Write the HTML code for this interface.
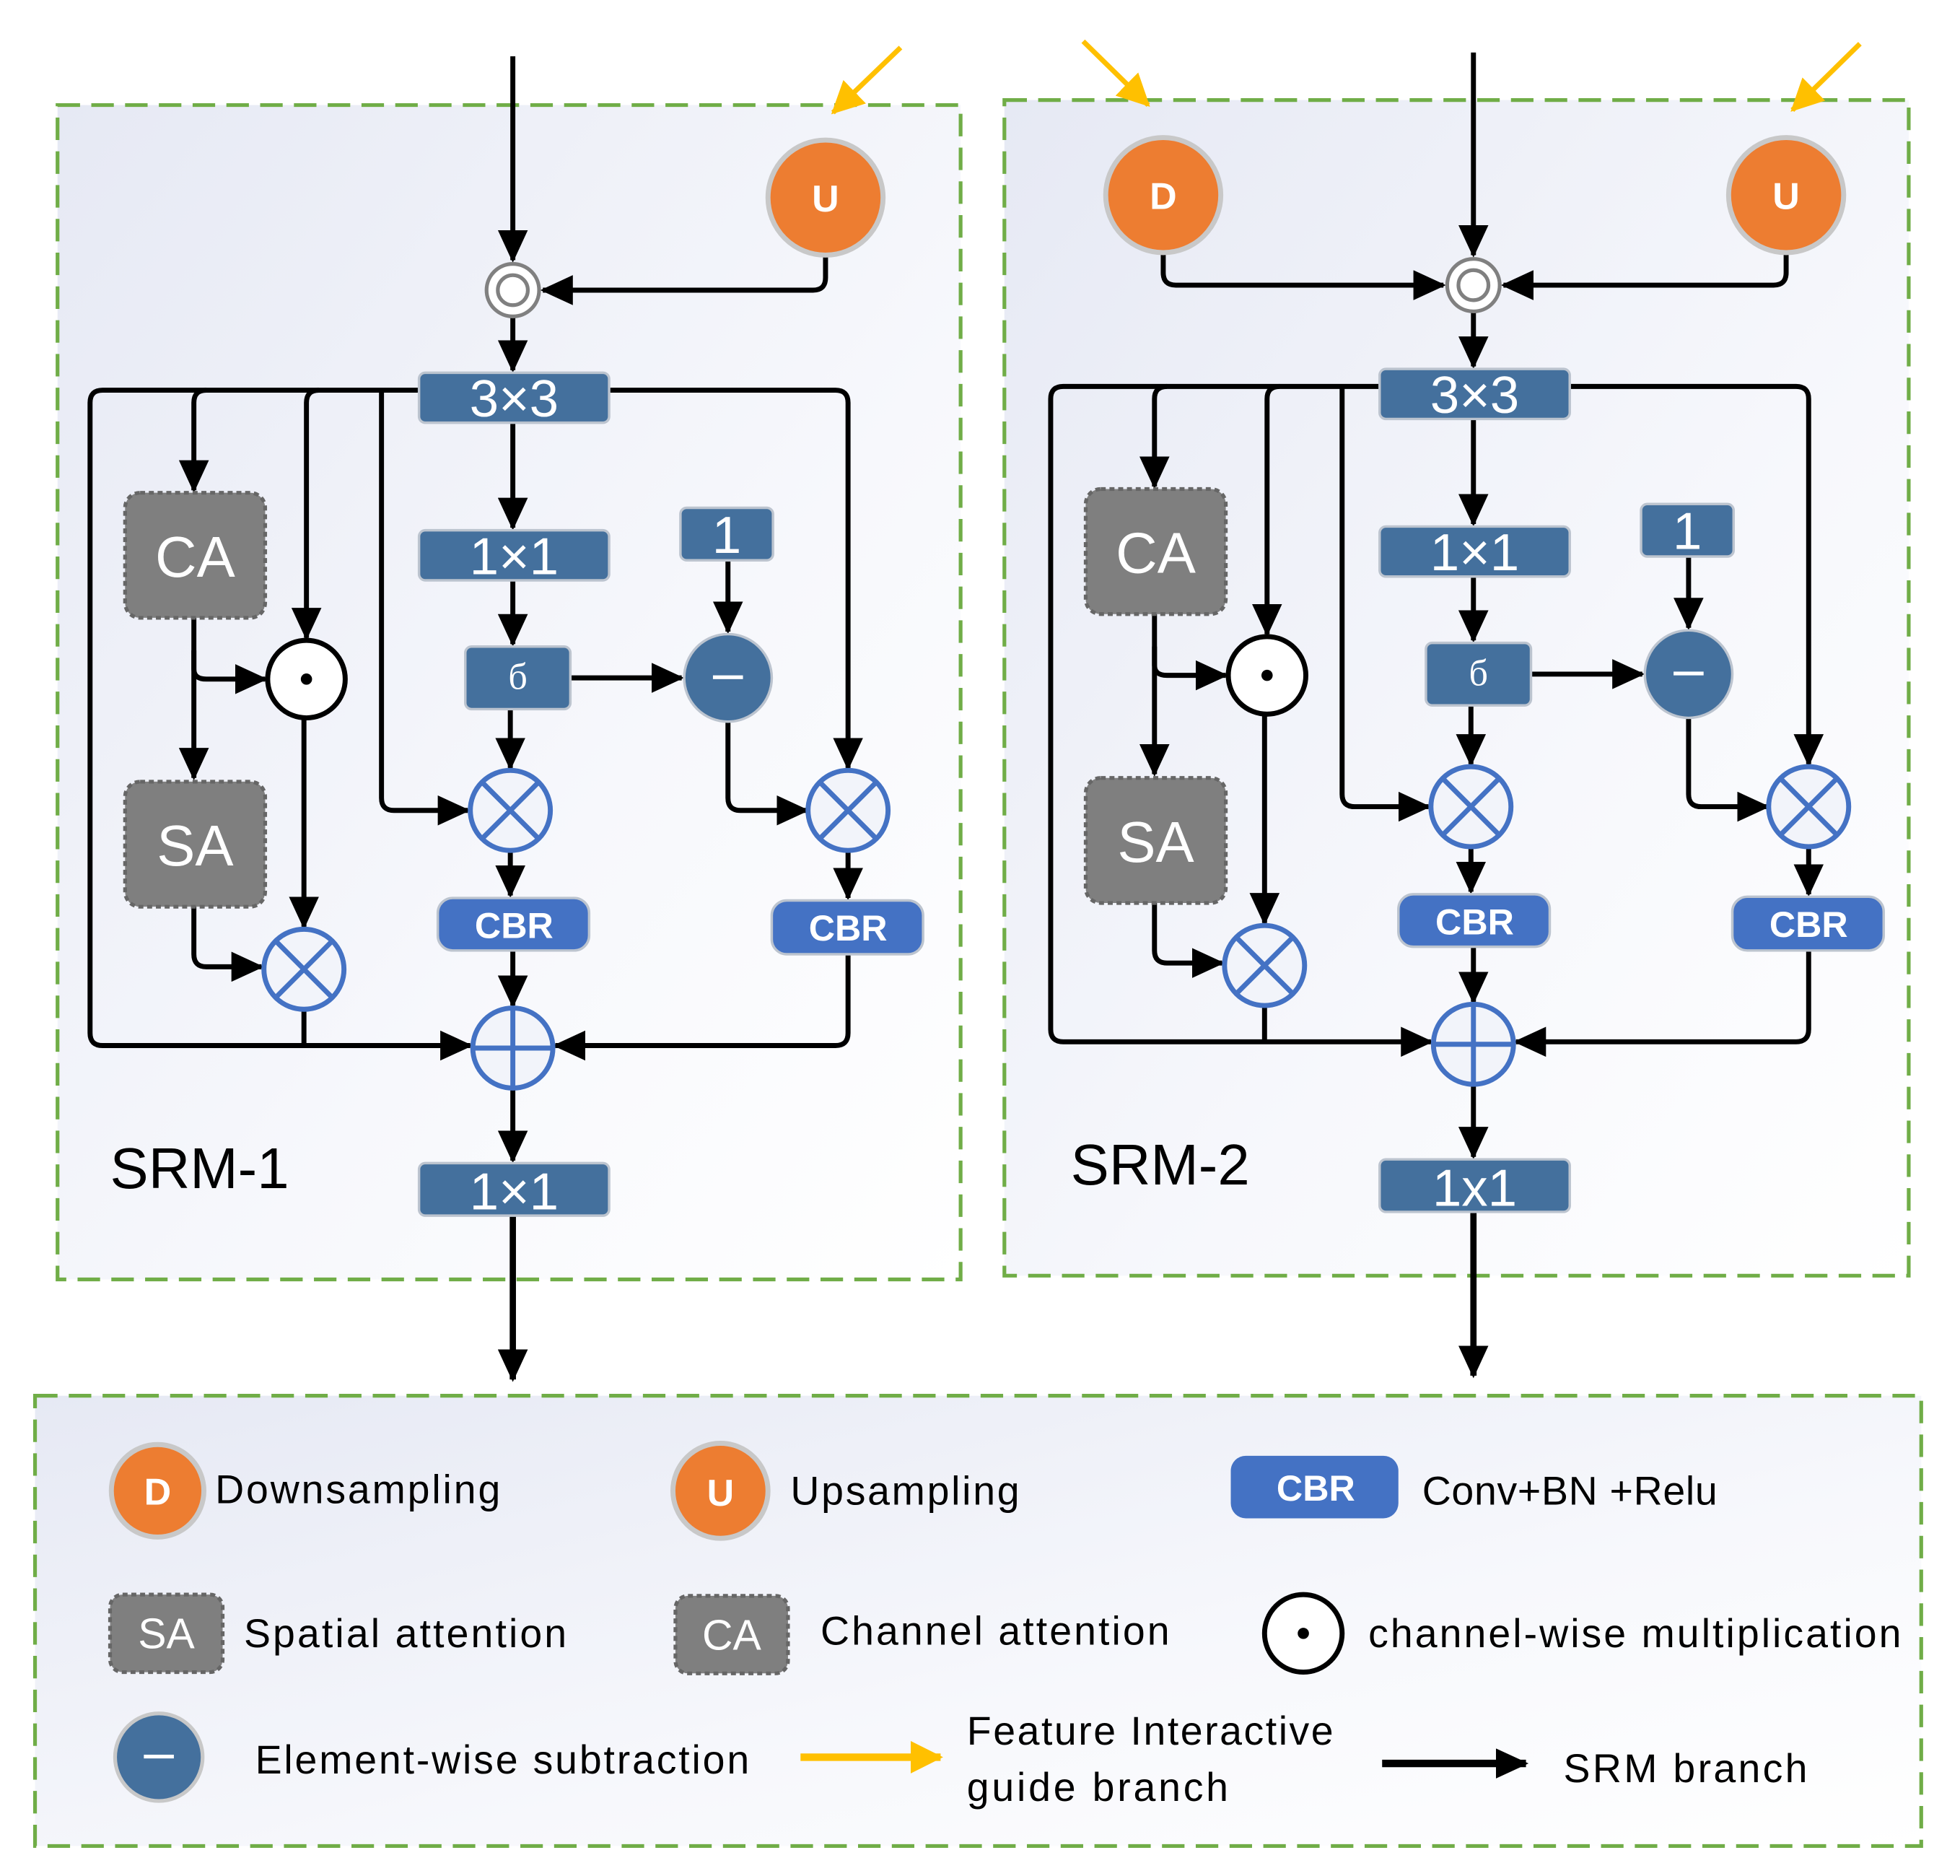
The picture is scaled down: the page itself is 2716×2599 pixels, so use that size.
<!DOCTYPE html>
<html><head><meta charset="utf-8"><style>html,body{margin:0;padding:0;background:#fff}svg{display:block}</style></head>
<body>
<svg width="2716" height="2599" viewBox="0 0 1567 1500" preserveAspectRatio="none" xmlns="http://www.w3.org/2000/svg" font-family="'Liberation Sans', sans-serif">
<defs>
<linearGradient id="bg" x1="0" y1="0" x2="1" y2="1"><stop offset="0" stop-color="#e6e9f4"/><stop offset="0.6" stop-color="#f7f8fc"/><stop offset="1" stop-color="#ffffff"/></linearGradient>
<marker id="a" markerUnits="userSpaceOnUse" markerWidth="26" markerHeight="24" refX="24" refY="12" orient="auto"><path d="M0,0 L26,12 L0,24 z" fill="#000"/></marker>
<marker id="y" markerUnits="userSpaceOnUse" markerWidth="26" markerHeight="26" refX="24" refY="13" orient="auto"><path d="M0,0 L26,13 L0,26 z" fill="#ffc000"/></marker>
<g id="srm">
<g fill="none" stroke="#000" stroke-width="4" stroke-linejoin="round">
<path d="M410,252 V296" marker-end="url(#a)"/>
<path d="M335,312 H82 Q72,312 72,322 V826 Q72,836 82,836 H376" marker-end="url(#a)"/>
<path d="M165,312 Q155,312 155,322 V392" marker-end="url(#a)"/>
<path d="M255,312 Q245,312 245,322 V510" marker-end="url(#a)"/>
<path d="M305,312 V638 Q305,648 315,648 H374" marker-end="url(#a)"/>
<path d="M487,312 H668 Q678,312 678,322 V614" marker-end="url(#a)"/>
<path d="M155,494 V622" marker-end="url(#a)"/>
<path d="M155,520 V535 Q155,543 165,543 H212" marker-end="url(#a)"/>
<path d="M155,725 V763 Q155,773 165,773 H209" marker-end="url(#a)"/>
<path d="M243,574 V741" marker-end="url(#a)"/>
<path d="M243,807 V836"/>
<path d="M410,338 V422" marker-end="url(#a)"/>
<path d="M410,464 V515" marker-end="url(#a)"/>
<path d="M456,542 H545" marker-end="url(#a)"/>
<path d="M582,448 V505" marker-end="url(#a)"/>
<path d="M582,577 V638 Q582,648 592,648 H645" marker-end="url(#a)"/>
<path d="M408,567 V614" marker-end="url(#a)"/>
<path d="M408,680 V716" marker-end="url(#a)"/>
<path d="M678,680 V718" marker-end="url(#a)"/>
<path d="M410,760 V804" marker-end="url(#a)"/>
<path d="M678,763 V826 Q678,836 668,836 H444" marker-end="url(#a)"/>
<path d="M410,870 V928" marker-end="url(#a)"/>
<path d="M410,972 V1103" stroke-width="5" marker-end="url(#a)"/>
</g>
<rect x="335" y="298" width="152" height="40" rx="5" fill="#44709d" stroke="#bcc4cf" stroke-width="2"/>
<text x="411" y="333" font-size="42" fill="#fff" text-anchor="middle">3×3</text>
<rect x="335" y="424" width="152" height="40" rx="5" fill="#44709d" stroke="#bcc4cf" stroke-width="2"/>
<text x="411" y="459" font-size="42" fill="#fff" text-anchor="middle">1×1</text>
<rect x="372" y="517" width="84" height="50" rx="5" fill="#44709d" stroke="#bcc4cf" stroke-width="2"/>
<text x="414" y="551" font-size="30" fill="#fff" text-anchor="middle" font-family="'Liberation Serif', serif">б</text>
<rect x="544" y="406" width="74" height="42" rx="5" fill="#44709d" stroke="#bcc4cf" stroke-width="2"/>
<text x="581" y="442" font-size="42" fill="#fff" text-anchor="middle">1</text>
<circle cx="582" cy="542" r="35" fill="#44709d" stroke="#bcc4cf" stroke-width="2"/>
<rect x="570" y="540" width="24" height="3" fill="#fff"/>
<rect x="100" y="394" width="112" height="100" rx="12" fill="#7f7f7f" stroke="#666" stroke-width="3" stroke-dasharray="4,3"/>
<text x="156" y="461" font-size="46" fill="#fff" text-anchor="middle">CA</text>
<rect x="100" y="625" width="112" height="100" rx="12" fill="#7f7f7f" stroke="#666" stroke-width="3" stroke-dasharray="4,3"/>
<text x="156" y="692" font-size="46" fill="#fff" text-anchor="middle">SA</text>
<circle cx="245" cy="543" r="31" fill="#fff" stroke="#000" stroke-width="4"/>
<circle cx="245" cy="543" r="4.5" fill="#000"/>
<g fill="#f2f4fa" stroke="#4472c4" stroke-width="4">
<circle cx="408" cy="648" r="32"/><path d="M385,625 L431,671 M431,625 L385,671"/>
<circle cx="678" cy="648" r="32"/><path d="M655,625 L701,671 M701,625 L655,671"/>
<circle cx="243" cy="775" r="32"/><path d="M220,752 L266,798 M266,752 L220,798"/>
<circle cx="410" cy="838" r="32"/><path d="M378,838 H442 M410,806 V870"/>
</g>
<rect x="350" y="718" width="121" height="42" rx="12" fill="#4472c4" stroke="#bcc4cf" stroke-width="2"/>
<text x="411" y="750" font-size="29" font-weight="bold" fill="#fff" text-anchor="middle">CBR</text>
<rect x="617" y="720" width="121" height="43" rx="12" fill="#4472c4" stroke="#bcc4cf" stroke-width="2"/>
<text x="678" y="752" font-size="29" font-weight="bold" fill="#fff" text-anchor="middle">CBR</text>
<rect x="335" y="930" width="152" height="42" rx="5" fill="#44709d" stroke="#bcc4cf" stroke-width="2"/>
</g>
</defs>

<rect x="46" y="84" width="722" height="939" fill="url(#bg)" stroke="#70ad47" stroke-width="3" stroke-dasharray="18,9"/>
<rect x="803" y="80" width="723" height="940" fill="url(#bg)" stroke="#70ad47" stroke-width="3" stroke-dasharray="18,9"/>
<rect x="28" y="1116" width="1508" height="360" fill="url(#bg)" stroke="#70ad47" stroke-width="3" stroke-dasharray="18,9"/>

<use href="#srm"/>
<text x="411" y="967" font-size="42" fill="#fff" text-anchor="middle">1×1</text>
<text x="88" y="950" font-size="46" fill="#000">SRM-1</text>
<use href="#srm" transform="translate(768,-3)"/>
<text x="1179" y="964" font-size="42" fill="#fff" text-anchor="middle">1x1</text>
<text x="856" y="947" font-size="46" fill="#000">SRM-2</text>

<g fill="none" stroke="#000" stroke-width="4" stroke-linejoin="round">
<path d="M410,45 V208" marker-end="url(#a)"/>
<path d="M660,205 V222 Q660,232 650,232 H434" marker-end="url(#a)"/>
<path d="M1178,42 V204" marker-end="url(#a)"/>
<path d="M1428,202 V218 Q1428,228 1418,228 H1202" marker-end="url(#a)"/>
<path d="M930,202 V218 Q930,228 940,228 H1154" marker-end="url(#a)"/>
</g>
<circle cx="410" cy="232" r="21" fill="#fff" stroke="#808080" stroke-width="3"/><circle cx="410" cy="232" r="12" fill="#fff" stroke="#808080" stroke-width="3"/>
<circle cx="1178" cy="228" r="21" fill="#fff" stroke="#808080" stroke-width="3"/><circle cx="1178" cy="228" r="12" fill="#fff" stroke="#808080" stroke-width="3"/>
<g stroke="#ffc000" stroke-width="4" fill="none">
<path d="M720,38 L666,90" marker-end="url(#y)"/>
<path d="M866,33 L918,84" marker-end="url(#y)"/>
<path d="M1487,35 L1433,88" marker-end="url(#y)"/>
<path d="M640,1405 H752" stroke-width="6" marker-end="url(#y)"/>
</g>
<g stroke="#c8c8c8" stroke-width="4" fill="#ed7d31">
<circle cx="660" cy="158" r="46"/><circle cx="930" cy="156" r="46"/><circle cx="1428" cy="156" r="46"/>
<circle cx="126" cy="1192" r="37"/><circle cx="576" cy="1192" r="38"/>
</g>
<g font-size="30" font-weight="bold" fill="#fff" text-anchor="middle">
<text x="660" y="169">U</text><text x="930" y="167">D</text><text x="1428" y="167">U</text>
<text x="126" y="1203">D</text><text x="576" y="1204">U</text>
</g>

<g font-size="32" fill="#000">
<text x="172" y="1202" textLength="228">Downsampling</text>
<text x="632" y="1203" textLength="183">Upsampling</text>
<text x="1137" y="1203" textLength="236">Conv+BN +Relu</text>
<text x="195" y="1317" textLength="258">Spatial attention</text>
<text x="656" y="1315" textLength="279">Channel attention</text>
<text x="1094" y="1317" textLength="426">channel-wise multiplication</text>
<text x="204" y="1418" textLength="395">Element-wise subtraction</text>
<text x="773" y="1395" textLength="293">Feature Interactive</text>
<text x="773" y="1440" textLength="209">guide  branch</text>
<text x="1250" y="1425" textLength="195">SRM  branch</text>
</g>
<rect x="984" y="1164" width="134" height="50" rx="12" fill="#4472c4"/>
<text x="1052" y="1200" font-size="29" font-weight="bold" fill="#fff" text-anchor="middle">CBR</text>
<rect x="88" y="1275" width="90" height="62" rx="10" fill="#7f7f7f" stroke="#666" stroke-width="3" stroke-dasharray="4,3"/>
<text x="133" y="1318" font-size="34" fill="#fff" text-anchor="middle">SA</text>
<rect x="540" y="1276" width="90" height="62" rx="10" fill="#7f7f7f" stroke="#666" stroke-width="3" stroke-dasharray="4,3"/>
<text x="585" y="1319" font-size="34" fill="#fff" text-anchor="middle">CA</text>
<circle cx="1042" cy="1306" r="31" fill="#fff" stroke="#000" stroke-width="4"/><circle cx="1042" cy="1306" r="4.5" fill="#000"/>
<circle cx="127" cy="1405" r="35" fill="#44709d" stroke="#c8c8c8" stroke-width="3"/>
<rect x="115" y="1403" width="24" height="3" fill="#fff"/>
<path d="M1105,1410 H1220" stroke="#000" stroke-width="6" marker-end="url(#a)"/>
</svg>
</body></html>
